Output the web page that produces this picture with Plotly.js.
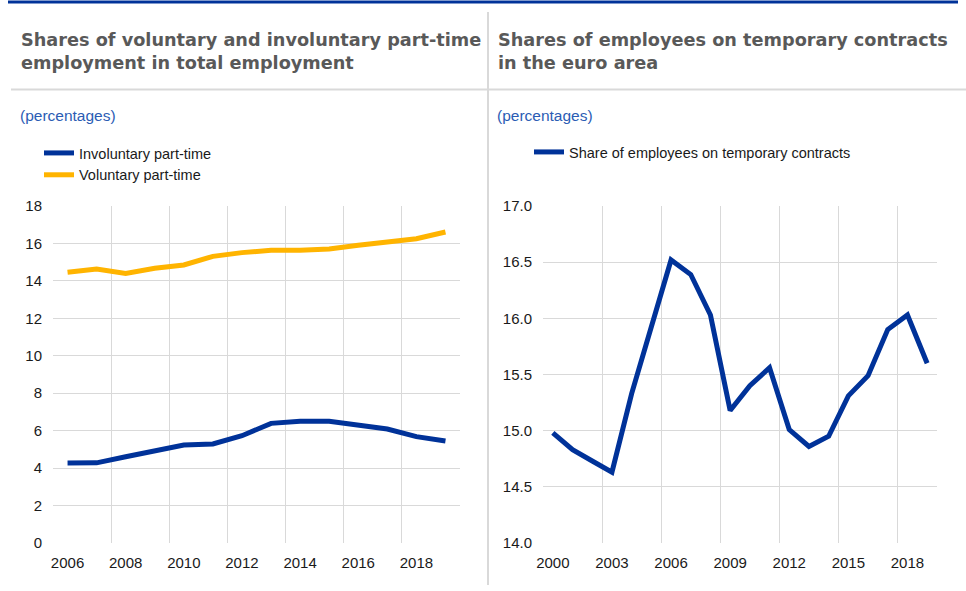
<!DOCTYPE html>
<html>
<head>
<meta charset="utf-8">
<script src="https://cdn.plot.ly/plotly-3.0.1.min.js"></script>
<style>
  html, body { margin: 0; padding: 0; background: #ffffff; }
  #chart { width: 966px; height: 591px; }
</style>
</head>
<body>
<div id="chart"></div>
<script>
// ---- Data ----
const yearsPartTime = [2006, 2007, 2008, 2009, 2010, 2011, 2012, 2013, 2014, 2015, 2016, 2017, 2018, 2019];
const involuntaryPartTime = [4.27, 4.28, 4.61, 4.93, 5.23, 5.29, 5.73, 6.39, 6.50, 6.50, 6.29, 6.09, 5.68, 5.45];
const voluntaryPartTime = [14.46, 14.63, 14.40, 14.67, 14.85, 15.31, 15.51, 15.63, 15.63, 15.70, 15.90, 16.08, 16.25, 16.61];

const yearsTemporary = [2000, 2001, 2002, 2003, 2004, 2005, 2006, 2007, 2008, 2009, 2010, 2011, 2012, 2013, 2014, 2015, 2016, 2017, 2018, 2019];
const temporaryShare = [14.98, 14.83, 14.73, 14.63, 15.33, 15.94, 16.52, 16.39, 16.03, 15.18, 15.40, 15.56, 15.01, 14.86, 14.95, 15.31, 15.49, 15.90, 16.03, 15.60];

const leftXTicks = [2006, 2008, 2010, 2012, 2014, 2016, 2018];
const leftYTicks = [0, 2, 4, 6, 8, 10, 12, 14, 16, 18];
const rightXTicks = [2000, 2003, 2006, 2009, 2012, 2015, 2018];
const rightYTicks = [14.0, 14.5, 15.0, 15.5, 16.0, 16.5, 17.0];

const seriesNames = ["Involuntary part-time", "Voluntary part-time", "Share of employees on temporary contracts"];
const titles = [
  "Shares of voluntary and involuntary part-time<br>employment in total employment",
  "Shares of employees on temporary contracts<br>in the euro area"
];
const unitLabel = "(percentages)";

// ---- Style ----
const BLUE = "#003299";
const YELLOW = "#ffb400";
const GRID = "#d9d9d9";
const TICKFONT = { family: "Arial, 'Liberation Sans', sans-serif", size: 15, color: "#1a1a1a" };
const W = 966, H = 591;
const px = v => v / W;
const py = v => (H - v) / H;

// vertical gridlines sit half a year before every labelled tick
const leftGrid = leftXTicks.map(t => t - 0.5).concat([leftXTicks[leftXTicks.length - 1] + 1.5]);
const rightGrid = rightXTicks.map(t => t - 0.5);

const traces = [
  { x: yearsPartTime, y: involuntaryPartTime, name: seriesNames[0], type: "scatter", mode: "lines",
    line: { color: BLUE, width: 5 }, xaxis: "x", yaxis: "y", legend: "legend", hoverinfo: "skip" },
  { x: yearsPartTime, y: voluntaryPartTime, name: seriesNames[1], type: "scatter", mode: "lines",
    line: { color: YELLOW, width: 5 }, xaxis: "x", yaxis: "y", legend: "legend", hoverinfo: "skip" },
  { x: yearsTemporary, y: temporaryShare, name: seriesNames[2], type: "scatter", mode: "lines",
    line: { color: BLUE, width: 5 }, xaxis: "x2", yaxis: "y2", legend: "legend2", hoverinfo: "skip" }
];

const yDom = [py(543), py(206)];
const lDom = [px(53), px(460)];
const rDom = [px(543), px(937)];

const xAxisDef = (dom, range, labels, grid, anchor) => ({
  domain: dom, range: range, anchor: anchor,
  tickmode: "array", tickvals: labels, showgrid: false, ticks: "",
  minor: { tickmode: "array", tickvals: grid, showgrid: true, gridcolor: GRID, gridwidth: 1, ticks: "" },
  zeroline: false, showline: false, tickfont: TICKFONT, ticklabelstandoff: 9, fixedrange: true
});

const layout = {
  width: W, height: H,
  margin: { l: 0, r: 0, t: 0, b: 0 },
  paper_bgcolor: "#ffffff", plot_bgcolor: "#ffffff",
  font: { family: "Arial, 'Liberation Sans', sans-serif", color: "#1a1a1a" },
  showlegend: true,
  xaxis: xAxisDef(lDom, [2005.5, 2019.5], leftXTicks, leftGrid, "y"),
  yaxis: { domain: yDom, range: [0, 18], tickvals: leftYTicks, showgrid: true, gridcolor: GRID, gridwidth: 1,
           zeroline: false, showline: false, ticks: "", tickfont: TICKFONT, ticklabelstandoff: 10, fixedrange: true },
  xaxis2: xAxisDef(rDom, [1999.5, 2019.5], rightXTicks, rightGrid, "y2"),
  yaxis2: { domain: yDom, range: [14, 17], tickvals: rightYTicks, tickformat: ".1f", showgrid: true, gridcolor: GRID,
            gridwidth: 1, zeroline: false, showline: false, ticks: "", tickfont: TICKFONT, ticklabelstandoff: 10,
            anchor: "x2", fixedrange: true },
  legend: { x: px(39), y: py(137), xanchor: "left", yanchor: "top", bgcolor: "rgba(0,0,0,0)", borderwidth: 0,
            font: { size: 14.5, color: "#1a1a1a" }, traceorder: "normal", itemclick: false, itemdoubleclick: false },
  legend2: { x: px(529), y: py(136), xanchor: "left", yanchor: "top", bgcolor: "rgba(0,0,0,0)", borderwidth: 0,
             font: { size: 14.5, color: "#1a1a1a" }, traceorder: "normal", itemclick: false, itemdoubleclick: false },
  annotations: [
    { text: titles[0], xref: "paper", yref: "paper", x: px(19), y: py(28), xanchor: "left", yanchor: "top",
      align: "left", showarrow: false, font: { family: "'DejaVu Sans', sans-serif", size: 17.7, weight: 700, color: "#595959" } },
    { text: titles[1], xref: "paper", yref: "paper", x: px(496), y: py(28), xanchor: "left", yanchor: "top",
      align: "left", showarrow: false, font: { family: "'DejaVu Sans', sans-serif", size: 17.7, weight: 700, color: "#595959" } },
    { text: unitLabel, xref: "paper", yref: "paper", x: px(18), y: py(115), xanchor: "left", yanchor: "middle",
      showarrow: false, font: { size: 15.5, color: "#2b5cb4" } },
    { text: unitLabel, xref: "paper", yref: "paper", x: px(495), y: py(115), xanchor: "left", yanchor: "middle",
      showarrow: false, font: { size: 15.5, color: "#2b5cb4" } }
  ],
  shapes: [
    { type: "line", xref: "paper", yref: "paper", x0: px(8), x1: px(958), y0: py(2), y1: py(2),
      line: { color: BLUE, width: 3 } },
    { type: "line", xref: "paper", yref: "paper", x0: px(11), x1: 1, y0: py(89.5), y1: py(89.5),
      line: { color: GRID, width: 2 } },
    { type: "line", xref: "paper", yref: "paper", x0: px(488), x1: px(488), y0: py(12), y1: py(585),
      line: { color: GRID, width: 2 } }
  ]
};

Plotly.newPlot("chart", traces, layout, { displayModeBar: false, staticPlot: true });
</script>
</body>
</html>
